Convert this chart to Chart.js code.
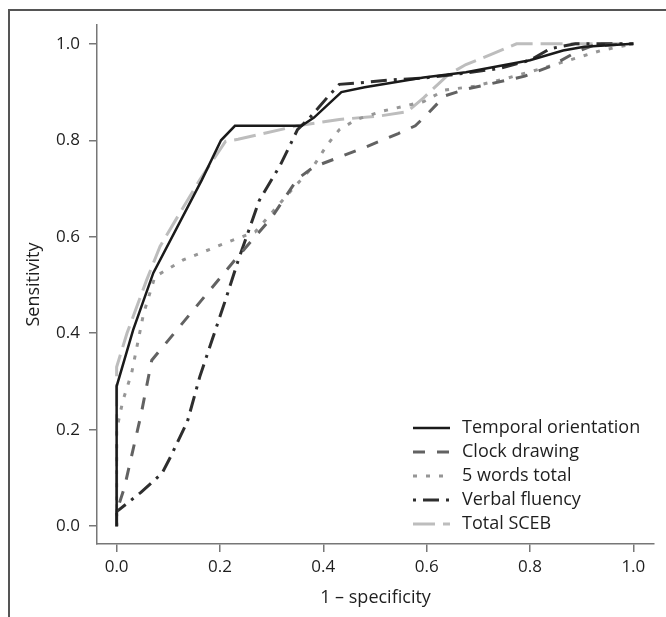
<!DOCTYPE html>
<html lang="en">
<head>
<meta charset="UTF-8">
<title>ROC curves</title>
<script src="https://cdn.jsdelivr.net/npm/chart.js"></script>
<style>
  body { margin: 0; background: #fff; }
  .wrap { position: relative; width: 666px; height: 617px; }
  .frame {
    position: absolute; left: 8px; top: 9px; right: 0; bottom: 0;
    border-left: 2px solid #555; border-top: 2px solid #555;
    pointer-events: none;
  }
</style>
</head>
<body>
<div class="wrap">
  <canvas id="chart"></canvas>
  <div class="frame"></div>
</div>
<script>
  // series names
  const seriesNames = ["Temporal orientation", "Clock drawing", "5 words total", "Verbal fluency", "Total SCEB"];
  const axisTicks = [0, 0.2, 0.4, 0.6, 0.8, 1.0];

  // 1 - specificity (x) and sensitivity (y) per series
  const temporalX = [0, 0, 0.032, 0.071, 0.165, 0.202, 0.229, 0.358, 0.382, 0.435, 0.48, 0.594, 0.676, 0.8, 0.864, 0.905, 1.0];
  const temporalY = [0, 0.29, 0.407, 0.525, 0.718, 0.80, 0.83, 0.83, 0.847, 0.90, 0.91, 0.93, 0.941, 0.966, 0.986, 0.994, 1.0];

  const clockX = [0, 0, 0.015, 0.047, 0.068, 0.229, 0.268, 0.30, 0.35, 0.382, 0.431, 0.48, 0.545, 0.578, 0.602, 0.635, 0.676, 0.757, 0.79, 0.839, 0.888, 0.92, 1.0];
  const clockY = [0, 0.03, 0.08, 0.23, 0.344, 0.552, 0.60, 0.64, 0.72, 0.745, 0.765, 0.785, 0.814, 0.83, 0.855, 0.892, 0.906, 0.925, 0.933, 0.953, 0.982, 0.996, 1.0];

  const wordsX = [0, 0, 0.012, 0.029, 0.052, 0.074, 0.129, 0.225, 0.268, 0.333, 0.382, 0.407, 0.431, 0.464, 0.513, 0.562, 0.594, 0.635, 0.692, 0.757, 0.823, 0.888, 0.937, 1.0];
  const wordsY = [0, 0.2, 0.26, 0.317, 0.44, 0.517, 0.552, 0.593, 0.61, 0.69, 0.748, 0.79, 0.822, 0.843, 0.86, 0.872, 0.88, 0.904, 0.912, 0.929, 0.949, 0.97, 0.986, 1.0];

  const fluencyX = [0, 0, 0.047, 0.088, 0.104, 0.137, 0.161, 0.186, 0.211, 0.235, 0.276, 0.317, 0.35, 0.374, 0.407, 0.431, 0.48, 0.529, 0.594, 0.659, 0.741, 0.80, 0.839, 0.888, 1.0];
  const fluencyY = [0, 0.03, 0.07, 0.11, 0.143, 0.217, 0.31, 0.39, 0.47, 0.55, 0.675, 0.749, 0.822, 0.847, 0.888, 0.916, 0.92, 0.925, 0.929, 0.937, 0.949, 0.966, 0.99, 1.0, 1.0];

  const scebX = [0, 0, 0.02, 0.058, 0.084, 0.12, 0.161, 0.211, 0.235, 0.284, 0.35, 0.431, 0.513, 0.562, 0.594, 0.643, 0.676, 0.725, 0.774, 1.0];
  const scebY = [0, 0.33, 0.40, 0.51, 0.58, 0.645, 0.718, 0.798, 0.802, 0.814, 0.83, 0.843, 0.851, 0.859, 0.888, 0.937, 0.957, 0.978, 1.0, 1.0];

  const toPoints = (xs, ys) => xs.map((x, i) => ({ x: x, y: ys[i] }));

  const family = "'Open Sans', sans-serif";
  const tickFont = { family: family, size: 17 };
  const titleFont = { family: family, size: 18 };
  const textColor = "#1e1e1e";
  const axisColor = "#777";

  // legend drawn inside the plot, bottom right
  const insideLegend = {
    id: "insideLegend",
    afterDatasetsDraw(chart) {
      const ctx = chart.ctx;
      ctx.save();
      ctx.font = "18px " + family;
      ctx.textBaseline = "middle";
      ctx.fillStyle = textColor;
      chart.data.datasets.forEach((ds, i) => {
        const y = 428 + i * 24;
        ctx.strokeStyle = ds.borderColor;
        ctx.lineWidth = ds.borderWidth;
        ctx.setLineDash(ds.borderDash || []);
        ctx.beginPath();
        ctx.moveTo(413, y);
        ctx.lineTo(450, y);
        ctx.stroke();
        ctx.setLineDash([]);
        ctx.fillText(ds.label, 462, y);
      });
      ctx.restore();
    }
  };

  new Chart(document.getElementById("chart"), {
    type: "scatter",
    data: {
      datasets: [
        { label: seriesNames[0], data: toPoints(temporalX, temporalY), borderColor: "#1a1a1a", borderWidth: 2.5, borderDash: [] },
        { label: seriesNames[1], data: toPoints(clockX, clockY), borderColor: "#626262", borderWidth: 3, borderDash: [12, 12] },
        { label: seriesNames[2], data: toPoints(wordsX, wordsY), borderColor: "#969696", borderWidth: 3, borderDash: [4, 9] },
        { label: seriesNames[3], data: toPoints(fluencyX, fluencyY), borderColor: "#2e2e2e", borderWidth: 3, borderDash: [3, 7, 16, 7] },
        { label: seriesNames[4], data: toPoints(scebX, scebY), borderColor: "#bdbdbd", borderWidth: 3, borderDash: [22, 8] }
      ].map(d => Object.assign(d, { showLine: true, pointRadius: 0, tension: 0, fill: false }))
    },
    options: {
      responsive: true,
      maintainAspectRatio: false,
      animation: false,
      layout: { padding: { top: 25, right: 12, left: 0, bottom: 0 } },
      plugins: { legend: { display: false }, tooltip: { enabled: false } },
      scales: {
        x: {
          type: "linear",
          min: -0.038,
          max: 1.04,
          afterFit: s => { s.height = 73; },
          afterBuildTicks: s => { s.ticks = axisTicks.map(v => ({ value: v })); },
          ticks: { maxRotation: 0, padding: 5, color: textColor, font: tickFont, callback: v => Number(v).toFixed(1) },
          grid: { drawOnChartArea: false, drawTicks: true, tickLength: 8, color: axisColor, lineWidth: 1.5 },
          border: { color: axisColor, width: 1.5 },
          title: { display: true, text: "1 – specificity", color: textColor, font: titleFont, padding: { top: 0, bottom: 8 } }
        },
        y: {
          type: "linear",
          min: -0.037,
          max: 1.039,
          afterFit: s => { s.width = 97; },
          afterBuildTicks: s => { s.ticks = axisTicks.map(v => ({ value: v })); },
          ticks: { padding: 9, color: textColor, font: tickFont, callback: v => Number(v).toFixed(1) },
          grid: { drawOnChartArea: false, drawTicks: true, tickLength: 8, color: axisColor, lineWidth: 1.5 },
          border: { color: axisColor, width: 1.5 },
          title: { display: true, text: "Sensitivity", color: textColor, font: titleFont, padding: { top: 23, bottom: 0 } }
        }
      }
    },
    plugins: [insideLegend]
  });
</script>
</body>
</html>
